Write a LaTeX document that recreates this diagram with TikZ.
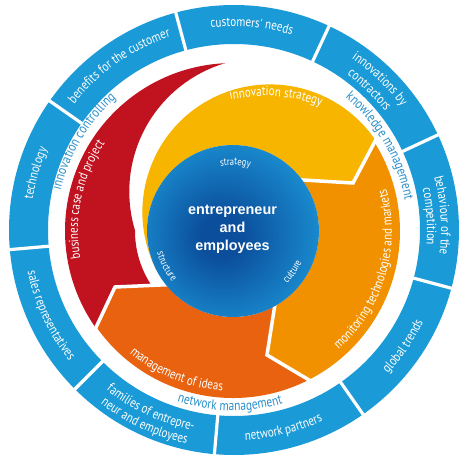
\documentclass[tikz,border=0pt]{standalone}
\usepackage{fontspec}
\setmainfont{PT Sans}
\newfontfamily\lblfont{PT Sans}[FakeStretch=0.82]
\newfontfamily\ctrfont{Liberation Sans}
\usetikzlibrary{decorations.text}
\definecolor{ringblue}{HTML}{1A9AD7}
\definecolor{ylw}{HTML}{F8B500}
\definecolor{org}{HTML}{F29100}
\definecolor{orgred}{HTML}{E8620F}
\definecolor{redc}{HTML}{C1121F}
\definecolor{txtblue}{HTML}{2A8FCB}
\definecolor{cdark}{HTML}{0B4E9C}
\definecolor{clight}{HTML}{1B92D4}
\pgfdeclareradialshading{centershade}{\pgfpoint{-4bp}{-2bp}}{color(0bp)=(cdark); color(6bp)=(cdark); color(30bp)=(clight); color(50bp)=(clight)}
\newcommand\rf{\lblfont\fontsize{13.5}{13.5}\selectfont}
\newcommand\bandf{\lblfont\fontsize{13.5}{13.5}\selectfont}
\newcommand\gapf{\lblfont\fontsize{14}{14}\selectfont}
\newcommand\smf{\lblfont\fontsize{10.5}{10.5}\selectfont}
\newcommand\cwtext[5]{\path[shift={#1},decorate,decoration={text along path,text align=center,text color=#4,text={#5}}] ({#2+70}:#3) arc[start angle={#2+70},end angle={#2-70},radius=#3];}
\newcommand\ccwtext[5]{\path[shift={#1},decorate,decoration={text along path,text align=center,text color=#4,text={#5}}] ({#2-70}:#3) arc[start angle={#2-70},end angle={#2+70},radius=#3];}
\tikzset{sepline/.style={white,line width=3.5,line join=miter}}
\begin{document}
\begin{tikzpicture}[x=1pt,y=1pt]
\useasboundingbox (-233,-244) rectangle (241,231);
% outer ring
\fill[ringblue,even odd rule] (1,1) circle[radius=225] (1,1) circle[radius=186];
\foreach \a in {105,65,25,-15,-55,-95,-135,-175,145}
  \draw[white,line width=3.2,shift={(1,1)}] (\a:183) -- (\a:228);
% cycle pieces
\fill[redc] (92.6:168) arc[start angle=92.6,end angle=215.2,radius=168] -- (-118,-56) -- (213.8:98)
  arc[start angle=213.8,end angle=179.6,radius=98] arc[start angle=196.8,end angle=106.4,radius=134] -- cycle;
\fill[ylw] (36.4:86) arc[start angle=36.4,end angle=207.2,radius=86] arc[start angle=207.2,end angle=33.9,radius=127.6] -- (120,48) -- cycle;
\fill[org] (32.2:167) arc[start angle=32.2,end angle=-63,radius=167] -- (34,-124) -- (-61:86)
  arc[start angle=-61,end angle=36.4,radius=86] -- (120,48) -- cycle;
\fill[orgred] (-63:167) arc[start angle=-63,end angle=-144.8,radius=167] -- (-118,-56) -- (-141.3:86)
  arc[start angle=-141.3,end angle=-61,radius=86] -- (34,-124) -- cycle;
% separators
\draw[sepline] (144.3,94.0) -- (120,48) -- (63.2,51.4);
\draw[sepline] (80.1,-151.4) -- (34,-124) -- (42.6,-69.3);
\draw[sepline] (-139.3,-101.3) -- (-118,-56) -- (-61.1,-53.5);
% centre
\shade[shading=centershade] (0,0) circle[radius=86];
\node[font=\ctrfont\bfseries\fontsize{14.4}{18}\selectfont,text=white,align=center] (centre) at (-0.5,2) {entrepreneur\\and\\employees};
% ring labels
\cwtext{(1,1)}{85}{203.5}{white}{|\rf|customers' needs}
\cwtext{(1,1)}{46}{208}{white}{|\rf|innovations by}
\cwtext{(1,1)}{46}{192}{white}{|\rf|contractors}
\cwtext{(1,1)}{4}{207}{white}{|\rf|behaviour of the}
\cwtext{(1,1)}{4}{193}{white}{|\rf|competition}
\ccwtext{(1,1)}{-34.5}{210.5}{white}{|\rf|global trends}
\ccwtext{(1,1)}{-76}{210.5}{white}{|\rf|network partners}
\ccwtext{(1,1)}{-115}{204.5}{white}{|\rf|families of entrepre-}
\ccwtext{(1,1)}{-115}{219}{white}{|\rf|neur and employees}
\ccwtext{(1,1)}{-155}{210.5}{white}{|\rf|sales representatives}
\cwtext{(1,1)}{164}{203.5}{white}{|\rf|technology}
\cwtext{(1,1)}{125}{203.5}{white}{|\rf|benefits for the customer}
% band labels
\cwtext{(32,-22)}{86}{157}{white}{|\bandf|innovation strategy}
\ccwtext{(0,0)}{-16.5}{159}{white}{|\bandf|monitoring technologies and markets}
\ccwtext{(0,0)}{-112}{160}{white}{|\bandf|management of ideas}
\cwtext{(0,0)}{168}{155}{white}{|\bandf|business case and project}
% gap labels
\cwtext{(0,0)}{149}{177}{txtblue}{|\gapf|innovation controlling}
\cwtext{(0,0)}{30}{174.5}{txtblue}{|\gapf|knowledge management}
\ccwtext{(0,0)}{-91}{179.5}{txtblue}{|\gapf|network management}
% centre circle labels
\cwtext{(0,0)}{88}{66}{white}{|\smf|strategy}
\ccwtext{(0,0)}{208}{79}{white}{|\smf|structure}
\ccwtext{(0,0)}{-34.3}{75.5}{white}{|\smf|culture}
\end{tikzpicture}
\end{document}
